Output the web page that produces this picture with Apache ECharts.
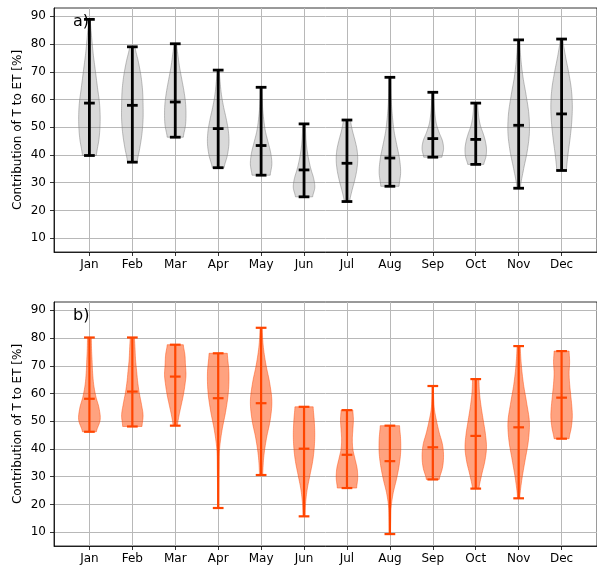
<!DOCTYPE html>
<html><head><meta charset="utf-8">
<script src="https://cdn.jsdelivr.net/npm/echarts@6/dist/echarts.min.js"></script>
<style>html,body{margin:0;padding:0;background:#fff}#c{width:597px;height:569px}</style>
</head><body><div id="c"></div>
<script>
const months = ['Jan','Feb','Mar','Apr','May','Jun','Jul','Aug','Sep','Oct','Nov','Dec'];
const positions = [1,2,3,4,5,6,7,8,9,10,11,12];
const yTicks = [10,20,30,40,50,60,70,80,90];

// Panel a) statistics
const aMin = [39.8, 37.4, 46.4, 35.4, 32.7, 24.9, 23.2, 28.7, 39.2, 36.6, 28.0, 34.4];
const aMax = [88.9, 79.0, 80.1, 70.6, 64.4, 51.2, 52.6, 68.0, 62.6, 58.7, 81.5, 81.8];
const aMed = [58.7, 57.9, 59.1, 49.5, 43.4, 34.6, 37.0, 38.9, 45.9, 45.6, 50.7, 54.8];
// relative violin widths at 9 equally spaced levels from min to max
const aShape = [
  [0.65,0.90,1.00,0.95,0.75,0.55,0.35,0.20,0.08],
  [0.45,0.70,0.90,1.00,1.00,0.95,0.80,0.55,0.25],
  [0.75,0.95,1.00,0.95,0.80,0.60,0.40,0.25,0.12],
  [0.55,0.85,1.00,0.95,0.75,0.50,0.30,0.18,0.10],
  [0.85,1.00,0.90,0.65,0.40,0.25,0.15,0.10,0.08],
  [0.80,1.00,0.90,0.65,0.45,0.30,0.20,0.15,0.12],
  [0.25,0.45,0.70,0.90,1.00,0.95,0.75,0.50,0.33],
  [0.85,1.00,0.90,0.65,0.40,0.25,0.15,0.10,0.08],
  [0.85,1.00,0.90,0.60,0.35,0.22,0.15,0.10,0.08],
  [0.75,0.95,1.00,0.90,0.70,0.45,0.30,0.22,0.18],
  [0.15,0.45,0.80,1.00,0.95,0.70,0.40,0.20,0.10],
  [0.45,0.60,0.80,0.95,1.00,0.90,0.65,0.35,0.12]
];

// Panel b) statistics
const bMin = [46.2, 48.1, 48.4, 18.7, 30.6, 15.7, 25.9, 9.3, 29.0, 25.7, 22.2, 43.7];
const bMax = [80.2, 80.2, 77.6, 74.5, 83.7, 55.2, 54.0, 48.4, 62.7, 65.2, 77.1, 75.3];
const bMed = [58.1, 60.7, 66.1, 58.3, 56.5, 40.1, 37.9, 35.6, 40.6, 44.7, 47.8, 58.5];
const bShape = [
  [0.65,1.00,0.90,0.60,0.40,0.30,0.25,0.20,0.18],
  [0.90,1.00,0.85,0.65,0.50,0.40,0.30,0.25,0.20],
  [0.20,0.35,0.55,0.75,0.90,1.00,0.95,0.90,0.75],
  [0.05,0.06,0.08,0.12,0.35,0.70,0.95,1.00,0.85],
  [0.15,0.25,0.50,0.85,1.00,0.80,0.45,0.20,0.10],
  [0.10,0.15,0.30,0.55,0.80,0.95,1.00,0.95,0.85],
  [0.90,1.00,0.95,0.75,0.55,0.50,0.55,0.60,0.55],
  [0.06,0.08,0.12,0.30,0.60,0.85,1.00,1.00,0.90],
  [0.60,0.90,1.00,0.90,0.60,0.35,0.15,0.08,0.06],
  [0.30,0.55,0.85,1.00,0.90,0.70,0.50,0.35,0.30],
  [0.10,0.30,0.60,0.90,1.00,0.75,0.45,0.25,0.15],
  [0.70,0.90,1.00,0.95,0.85,0.75,0.70,0.75,0.70]
];

const FONT = 'DejaVu Sans';

function widthAt(shape, t) {
  const n = shape.length - 1;
  const f = t * n;
  let k = Math.floor(f); if (k >= n) k = n - 1; if (k < 0) k = 0;
  const u = f - k;
  const p0 = shape[Math.max(k - 1, 0)], p1 = shape[k], p2 = shape[k + 1], p3 = shape[Math.min(k + 2, n)];
  const v = 0.5 * ((2 * p1) + (-p0 + p2) * u + (2 * p0 - 5 * p1 + 4 * p2 - p3) * u * u + (-p0 + 3 * p1 - 3 * p2 + p3) * u * u * u);
  return Math.max(v, 0.02);
}

function makeSeries(idx, mins, maxs, meds, shapes, st) {
  const data = positions.map((p, i) => [p, mins[i], maxs[i], meds[i]]);
  return {
    type: 'custom', xAxisIndex: idx, yAxisIndex: idx, data: data,
    encode: { x: 0, y: [1, 2, 3] },
    renderItem: function (params, api) {
      const i = params.dataIndex;
      const pos = api.value(0), lo = api.value(1), hi = api.value(2), med = api.value(3);
      const shape = shapes[i];
      const N = 60;
      const right = [], left = [];
      for (let j = 0; j <= N; j++) {
        const t = j / N;
        const y = lo + t * (hi - lo);
        const w = widthAt(shape, t) * 0.25;
        right.push(api.coord([pos + w, y]));
        left.push(api.coord([pos - w, y]));
      }
      const pts = right.concat(left.reverse());
      const c = (x, y) => api.coord([x, y]);
      const ls = { stroke: st.line, lineWidth: st.lw };
      const cap = 0.125;
      const mk = (a, b) => ({ type: 'line', shape: { x1: a[0], y1: a[1], x2: b[0], y2: b[1] }, style: ls });
      return {
        type: 'group',
        children: [
          { type: 'polygon', shape: { points: pts }, style: { fill: st.fill, stroke: st.edge, lineWidth: 1 } },
          mk(c(pos, lo), c(pos, hi)),
          mk(c(pos - cap, lo), c(pos + cap, lo)),
          mk(c(pos - cap, hi), c(pos + cap, hi)),
          mk(c(pos - cap, med), c(pos + cap, med))
        ]
      };
    }
  };
}

function xAxis(idx) {
  return {
    type: 'value', gridIndex: idx, min: 0.175, max: 12.825,
    axisLine: { show: true, lineStyle: { color: '#000', width: 0.8 } },
    axisTick: { show: true, customValues: positions, length: 4, lineStyle: { color: '#000', width: 0.8 } },
    axisLabel: { customValues: positions, formatter: v => months[Math.round(v) - 1], color: '#000', fontSize: 12, fontFamily: FONT, margin: 7 },
    splitLine: { show: true, lineStyle: { color: '#b8b8b8', width: 1 } }
  };
}
function yAxis(idx) {
  return {
    type: 'value', gridIndex: idx, min: 5, max: 93,
    name: 'Contribution of T to ET [%]', nameLocation: 'middle', nameGap: 30, nameMoveOverlap: false,
    nameTextStyle: { color: '#000', fontSize: 12, fontFamily: FONT },
    axisLine: { show: true, lineStyle: { color: '#000', width: 0.8 } },
    axisTick: { show: true, customValues: yTicks, length: 4, lineStyle: { color: '#000', width: 0.8 } },
    axisLabel: { customValues: yTicks, color: '#000', fontSize: 12, fontFamily: FONT, margin: 8 },
    splitLine: { show: true, lineStyle: { color: '#b8b8b8', width: 1 } }
  };
}

const chart = echarts.init(document.getElementById('c'), null, { renderer: 'canvas' });
chart.setOption({
  animation: false,
  backgroundColor: '#fff',
  grid: [
    { left: 54, top: 8, width: 551.5, height: 244, show: true, borderColor: '#000', borderWidth: 0.8 },
    { left: 54, top: 302, width: 551.5, height: 244, show: true, borderColor: '#000', borderWidth: 0.8 }
  ],
  xAxis: [xAxis(0), xAxis(1)],
  yAxis: [yAxis(0), yAxis(1)],
  graphic: [
    { type: 'text', left: 73, top: 14, z: 100, style: { text: 'a)', fontSize: 16, fontFamily: FONT, fill: '#000' } },
    { type: 'text', left: 73, top: 308, z: 100, style: { text: 'b)', fontSize: 16, fontFamily: FONT, fill: '#000' } }
  ],
  series: [
    makeSeries(0, aMin, aMax, aMed, aShape, { fill: 'rgba(128,128,128,0.3)', edge: 'rgba(128,128,128,0.5)', line: '#000', lw: 2.8 }),
    makeSeries(1, bMin, bMax, bMed, bShape, { fill: 'rgba(255,69,0,0.5)', edge: 'rgba(255,69,0,0.45)', line: '#ff4500', lw: 2.2 })
  ]
});
</script></body></html>
